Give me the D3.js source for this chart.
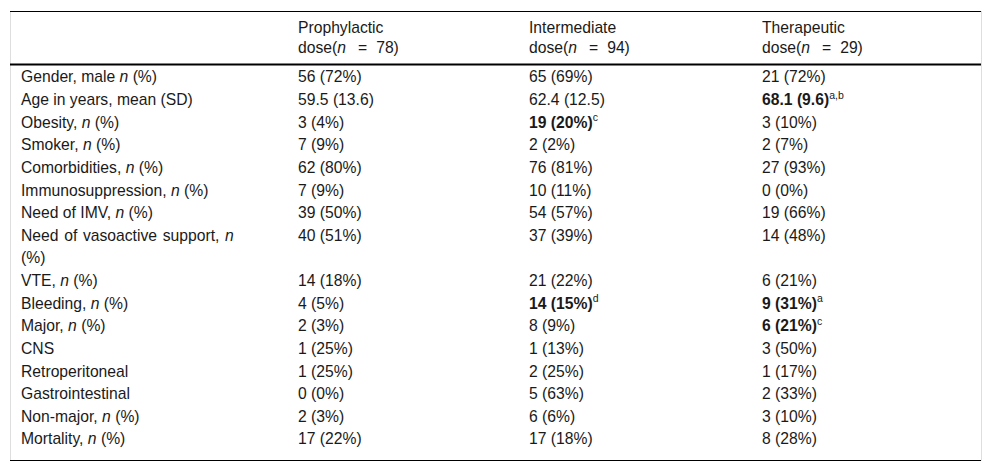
<!DOCTYPE html>
<html>
<head>
<meta charset="utf-8">
<script src="https://cdn.jsdelivr.net/npm/d3@7"></script>
<style>
  html, body { margin: 0; padding: 0; background: #fff; }
  svg { display: block; font-family: "Liberation Sans", Arial, Helvetica, sans-serif; }
</style>
</head>
<body>
<svg id="chart" width="992" height="472"></svg>
<script>
// ---- Data ----
const groups = ["Prophylactic", "Intermediate", "Therapeutic"];
const groupN = [78, 94, 29];
// "_" marks italic, "|" marks a line break
const rowLabels = [
  "Gender, male _n_ (%)",
  "Age in years, mean (SD)",
  "Obesity, _n_ (%)",
  "Smoker, _n_ (%)",
  "Comorbidities, _n_ (%)",
  "Immunosuppression, _n_ (%)",
  "Need of IMV, _n_ (%)",
  "Need of vasoactive support, _n_|(%)",
  "VTE, _n_ (%)",
  "Bleeding, _n_ (%)",
  "Major, _n_ (%)",
  "CNS",
  "Retroperitoneal",
  "Gastrointestinal",
  "Non-major, _n_ (%)",
  "Mortality, _n_ (%)"
];
const prophylactic = ["56 (72%)", "59.5 (13.6)", "3 (4%)", "7 (9%)", "62 (80%)", "7 (9%)", "39 (50%)", "40 (51%)", "14 (18%)", "4 (5%)", "2 (3%)", "1 (25%)", "1 (25%)", "0 (0%)", "2 (3%)", "17 (22%)"];
const intermediate = ["65 (69%)", "62.4 (12.5)", "19 (20%)", "2 (2%)", "76 (81%)", "10 (11%)", "54 (57%)", "37 (39%)", "21 (22%)", "14 (15%)", "8 (9%)", "1 (13%)", "2 (25%)", "5 (63%)", "6 (6%)", "17 (18%)"];
const therapeutic = ["21 (72%)", "68.1 (9.6)", "3 (10%)", "2 (7%)", "27 (93%)", "0 (0%)", "19 (66%)", "14 (48%)", "6 (21%)", "9 (31%)", "6 (21%)", "3 (50%)", "1 (17%)", "2 (33%)", "3 (10%)", "8 (28%)"];
// superscript notes (bold cells); "" = none
const intermediateSup = ["", "", "c", "", "", "", "", "", "", "d", "", "", "", "", "", ""];
const therapeuticSup  = ["", "a,b", "", "", "", "", "", "", "", "a", "c", "", "", "", "", ""];

// ---- Layout ----
const svg = d3.select("#chart");
const color = "#1a1a1a";
const fontSize = 15.7;
const tableLeft = 10, tableRight = 981;
const topY = 11, headBottom = 64.5, bottomY = 460.5;

const colX = d3.scaleOrdinal().domain(["label", ...groups]).range([21, 298, 529, 762]);

// line index for each row
const lineStart = [];
let li = 0;
rowLabels.forEach(l => { lineStart.push(li); li += l.split("|").length; });
const totalLines = li;
const lineY = d3.scaleLinear().domain([0, totalLines - 1]).range([77, 439]);
const baseOff = 5.4;

// borders
svg.append("line").attr("x1", tableLeft + 0.5).attr("x2", tableLeft + 0.5).attr("y1", topY).attr("y2", bottomY)
  .attr("stroke", "#dedede").attr("stroke-width", 1);
svg.append("line").attr("x1", tableRight + 0.5).attr("x2", tableRight + 0.5).attr("y1", topY).attr("y2", bottomY)
  .attr("stroke", "#dedede").attr("stroke-width", 1);
svg.append("line").attr("x1", tableLeft).attr("x2", tableRight).attr("y1", topY + 0.5).attr("y2", topY + 0.5)
  .attr("stroke", "#000").attr("stroke-width", 1.2);
svg.append("line").attr("x1", tableLeft).attr("x2", tableRight).attr("y1", headBottom).attr("y2", headBottom)
  .attr("stroke", "#000").attr("stroke-width", 2);
svg.append("line").attr("x1", tableLeft).attr("x2", tableRight).attr("y1", bottomY).attr("y2", bottomY)
  .attr("stroke", "#000").attr("stroke-width", 1.2);

// header
const head = svg.append("g").attr("font-size", fontSize).attr("fill", color);
groups.forEach((g, i) => {
  const x = colX(g);
  head.append("text").attr("x", x).attr("y", 28 + baseOff).text(g);
  const t = head.append("text").attr("x", x).attr("y", 48 + baseOff);
  t.append("tspan").text("dose(");
  t.append("tspan").attr("font-style", "italic").text("n");
  t.append("tspan").attr("dx", 12).text("=");
  t.append("tspan").attr("dx", 9).text(groupN[i] + ")");
});

// body
const body = svg.append("g").attr("font-size", fontSize).attr("fill", color);
rowLabels.forEach((label, r) => {
  const lines = label.split("|");
  lines.forEach((line, k) => {
    const t = body.append("text").attr("x", colX("label")).attr("y", lineY(lineStart[r] + k) + baseOff)
      .attr("xml:space", "preserve");
    if (k < lines.length - 1) t.attr("word-spacing", 1.3); // wrapped (justified-looking) line
    line.split("_").forEach((part, j) => {
      if (!part) return;
      t.append("tspan").attr("font-style", j % 2 ? "italic" : "normal").text(part);
    });
  });
});

const cols = [
  { key: groups[0], vals: prophylactic, sups: null },
  { key: groups[1], vals: intermediate, sups: intermediateSup },
  { key: groups[2], vals: therapeutic, sups: therapeuticSup }
];
cols.forEach(c => {
  c.vals.forEach((v, r) => {
    const sup = c.sups ? c.sups[r] : "";
    const t = body.append("text").attr("x", colX(c.key)).attr("y", lineY(lineStart[r]) + baseOff);
    t.append("tspan").attr("font-weight", sup ? "bold" : "normal").text(v);
    if (sup) {
      t.append("tspan").attr("font-size", 10.5).attr("dy", -6.5).text(sup);
    }
  });
});
</script>
</body>
</html>
